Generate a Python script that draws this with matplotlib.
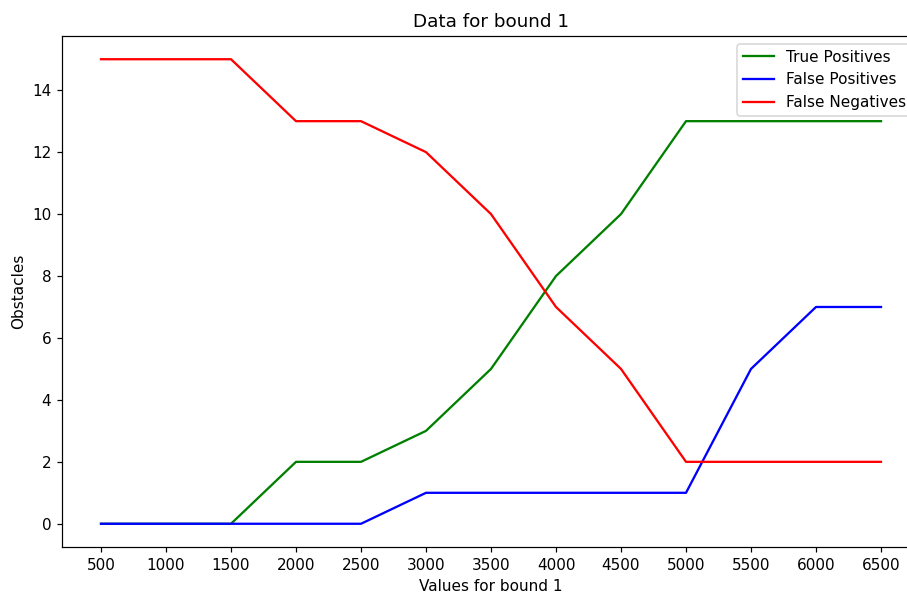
import matplotlib
matplotlib.use("Agg")
import matplotlib.pyplot as plt

bounds = [500, 1000, 1500, 2000, 2500, 3000, 3500, 4000, 4500, 5000, 5500, 6000, 6500]
true_positives = [0, 0, 0, 2, 2, 3, 5, 8, 10, 13, 13, 13, 13]
false_positives = [0, 0, 0, 0, 0, 1, 1, 1, 1, 1, 5, 7, 7]
false_negatives = [15, 15, 15, 13, 13, 12, 10, 7, 5, 2, 2, 2, 2]

DPI = 110
fig = plt.figure(figsize=(908 / DPI, 596 / DPI), dpi=DPI)
ax = fig.add_axes([62/908, 1 - 547/596, (920 - 62)/908, (547 - 36)/596])
ax.plot(bounds, true_positives, color="green", label="True Positives")
ax.plot(bounds, false_positives, color="blue", label="False Positives")
ax.plot(bounds, false_negatives, color="red", label="False Negatives")
ax.set_xticks(bounds)
ax.set_title("Data for bound 1")
ax.set_xlabel("Values for bound 1")
ax.set_ylabel("Obstacles")
ax.legend(loc="upper right")
fig.savefig("out.png", dpi=DPI)
